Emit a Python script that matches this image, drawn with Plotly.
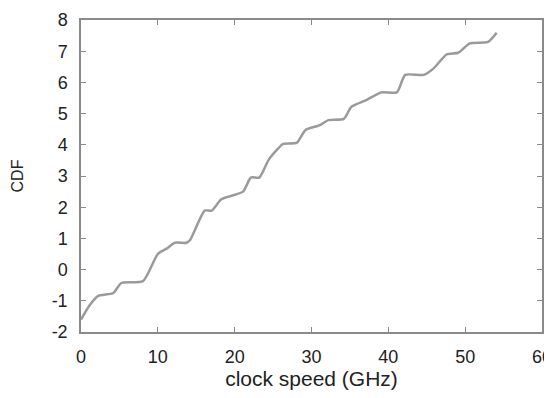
import plotly.graph_objects as go

clock_speed = [0, 1.1, 2.2, 4.2, 5.25, 8.07, 10.0, 11.2, 12.2, 13.7, 14.2, 16.1, 17.0, 18.3,
               21.1, 22.1, 23.2, 24.4, 25.7, 26.3, 28.1, 29.2, 31.1, 32.2, 34.2, 35.2,
               37.2, 39.1, 41.1, 42.2, 44.6, 45.9, 47.6, 49.1, 50.6, 53.0, 54.1]
cdf = [-1.6, -1.15, -0.85, -0.75, -0.43, -0.37, 0.5, 0.68, 0.86, 0.86, 0.95, 1.89, 1.89, 2.26,
       2.5, 2.95, 2.95, 3.51, 3.89, 4.03, 4.07, 4.47, 4.63, 4.79, 4.83, 5.22,
       5.44, 5.68, 5.68, 6.24, 6.24, 6.45, 6.9, 6.95, 7.25, 7.3, 7.59]

x_ticks = [0, 10, 20, 30, 40, 50, 60]
x_tick_labels = ["0", "10", "20", "30", "40", "50", "60"]
y_ticks = [-2, -1, 0, 1, 2, 3, 4, 5, 6, 7, 8]
y_tick_labels = ["-2", "-1", "0", "1", "2", "3", "4", "5", "6", "7", "8"]

font = "Liberation Sans, Arial, sans-serif"

fig = go.Figure(go.Scatter(
    x=clock_speed, y=cdf, mode="lines",
    line=dict(color="#9a9a9a", width=2.5, shape="spline", smoothing=0.6),
    hoverinfo="skip", showlegend=False))

axis_common = dict(
    showgrid=False, zeroline=False, showline=True, linecolor="#8a8a8a", linewidth=1.5,
    mirror="ticks", ticks="inside", ticklen=5, tickcolor="#8a8a8a", tickwidth=1,
    tickfont=dict(family=font, size=18, color="#222"), automargin=False,
    ticklabeloverflow="allow",
)

fig.update_xaxes(range=[0, 60], tickvals=x_ticks, ticktext=x_tick_labels, ticklabelstandoff=8,
                 title=dict(text="clock speed (GHz)", font=dict(family=font, size=21, color="#222"),
                            standoff=4),
                 **axis_common)
fig.update_yaxes(range=[-2, 8], tickvals=y_ticks, ticktext=y_tick_labels, ticklabelstandoff=8,
                 title=dict(text="CDF", font=dict(family=font, size=16, color="#222"),
                            standoff=24),
                 **axis_common)

# page body has an 8px default margin, so the figure is sized to fit inside the window
fig.update_layout(
    width=544, height=390,
    margin=dict(l=73, r=10, t=12, b=66),
    paper_bgcolor="white", plot_bgcolor="white",
)

fig.write_html("out.html")
